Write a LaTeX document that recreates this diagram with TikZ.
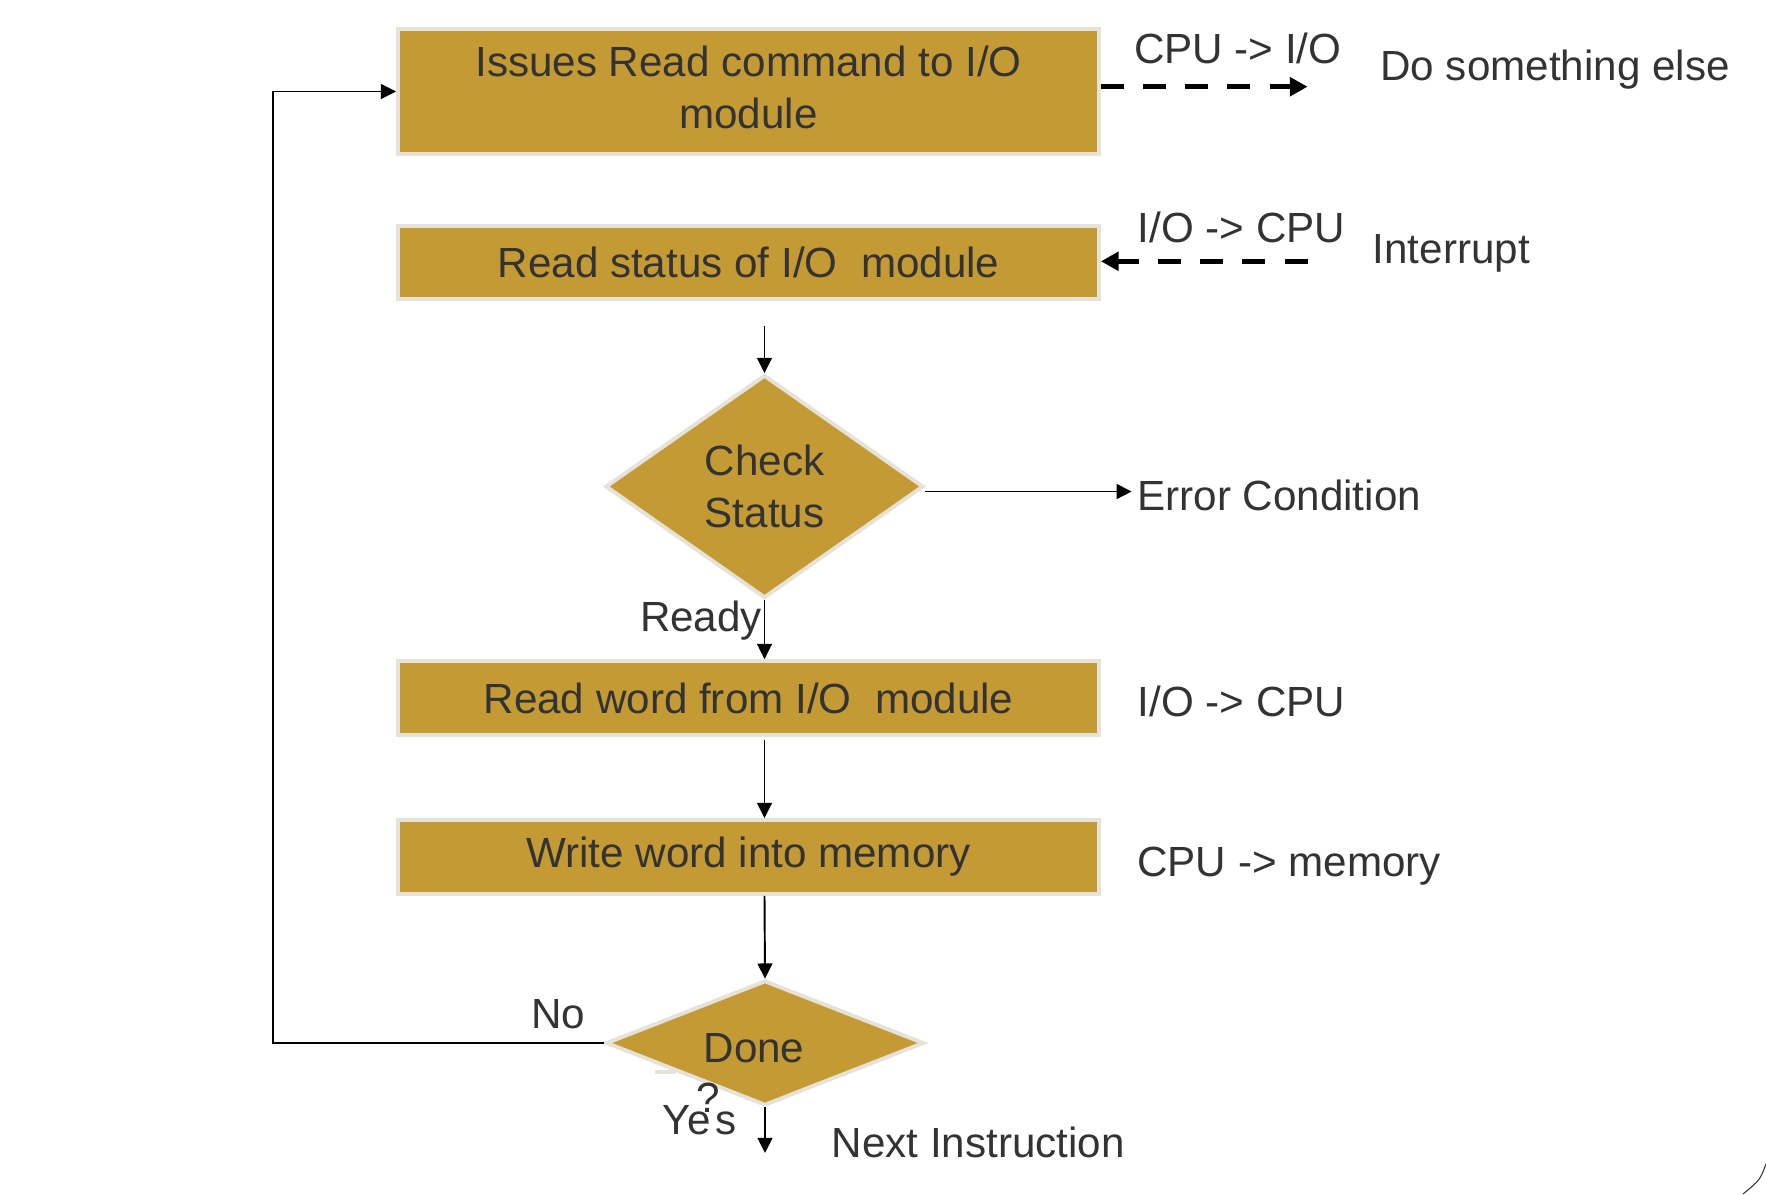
\documentclass[tikz,border=0pt]{standalone}
\usepackage{fontspec}
\setmainfont{Liberation Sans}
\usepackage{tikz}
\usetikzlibrary{positioning}
\usetikzlibrary{arrows.meta}
\usetikzlibrary{shapes.geometric}
\usepackage{xcolor}
\definecolor{mustard}{HTML}{C49A35}
\definecolor{rim}{HTML}{E6E2D8}
\definecolor{ink}{HTML}{333333}

\begin{document}
\begin{tikzpicture}[
  every node/.style={font=\fontsize{12pt}{14.8pt}\selectfont, text=ink},
  stepbox/.style={draw=rim, line width=1.1pt, fill=mustard, minimum width=7.01cm, align=center, inner sep=0pt},
  decision/.style={diamond, draw=rim, line width=1.1pt, fill=mustard, align=center, inner sep=0pt},
  note/.style={inner sep=0pt, anchor=base west},
  flow/.style={-{Triangle[length=4.3pt,width=4.2pt]}, line width=0.55pt},
  signal/.style={-{Triangle[length=5pt,width=5.2pt]}, line width=1.5pt, dash pattern=on 6.5pt off 5.5pt}]
  \path[use as bounding box, fill=white] (0,0) rectangle (17.66,-11.94);

  \node[stepbox, minimum height=1.25cm, text depth=0.09cm] (issue) at (7.485,-0.915) {Issues Read command to I/O\\module};
  \node[stepbox, minimum height=0.73cm] (status) at (7.485,-2.625) {Read status of I/O~ module};
  \node[decision, aspect=1.43, minimum width=3.18cm, minimum height=2.23cm] (check) at (7.645,-4.865) {Check\\Status};
  \node[stepbox, minimum height=0.74cm] (readword) at (7.485,-6.98) {Read word from I/O~ module};
  \node[stepbox, minimum height=0.74cm] (write) at (7.485,-8.57) {Write word into memory};
  \node[decision, aspect=2.6, minimum width=3.18cm, minimum height=1.25cm, text height=0.40cm] (done) at (7.65,-10.43) {Done\hspace{0.22cm}};

  \node[note] (cpuio) at (11.334,-0.633) {CPU -> I/O};
  \node[note] (else) at (13.797,-0.80) {Do something else};
  \node[note] (iocpu) at (11.37,-2.427) {I/O -> CPU};
  \node[note] (irqtxt) at (13.72,-2.633) {Interrupt};
  \node[note] (err) at (11.367,-5.10) {Error Condition};
  \node[note] (rdtxt) at (11.37,-7.167) {I/O -> CPU};
  \node[note] (memtxt) at (11.367,-8.76) {CPU -> memory};
  \node[note, anchor=base east] (ready) at (7.627,-6.31) {Ready};
  \node[note] (no) at (5.307,-10.283) {No};
  \node[note] (yes) at (6.62,-11.34) {Ye\kern0.05cm s};
  \node[note] (qmark) at (6.96,-11.12) {?};
  \node[note] (next) at (8.31,-11.57) {Next Instruction};

  \coordinate (loop) at (2.727,-5);
  \coordinate (exit) at (7.65,-11.53);
  \coordinate (away) at (13.075,-0.867);
  \coordinate (irq) at (13.075,-2.613);

  \draw[flow, shorten <=0.25cm] (status.south -| check.north) -- (check.north);
  \draw[flow] (check.south) -- (readword.north -| check.south);
  \draw[flow, shorten <=0.03cm] (readword.south -| check.south) -- (write.north -| check.south);
  \draw[flow] (write.south -| check.south) -- (done.north);
  \draw[flow] (done.south) -- (exit);
  \draw[flow, shorten >=0.05cm] ([yshift=-0.05cm]check.east) -- ([yshift=-0.05cm]check.east -| err.west);
  \draw[flow] (done.west) -| (loop) |- (issue.west);
  \draw[signal] (issue.east |- away) -- (away);
  \draw[signal] (irq) -- (status.east |- irq);

  \draw[rim, line width=1pt] (6.55,-10.72) -- (6.76,-10.72);
  \draw[ink, line width=0.3pt] (17.66,-11.64) .. controls (17.60,-11.80) .. (17.43,-11.94);
\end{tikzpicture}
\end{document}
